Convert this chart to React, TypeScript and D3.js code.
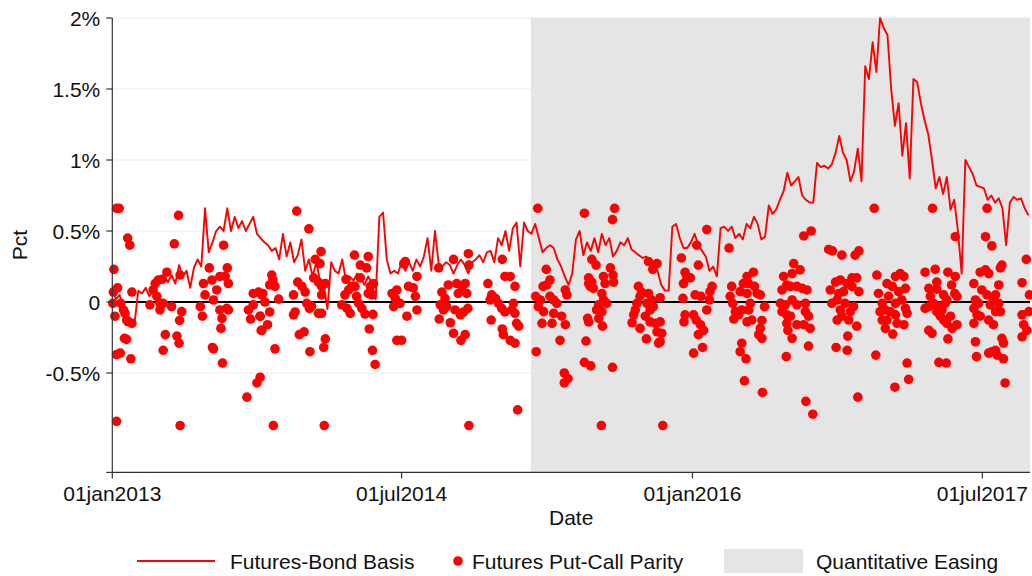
import React from "react";
import * as d3 from "d3";

// ---------- data ----------
const startDate = "2013-01-01";
const endDate = "2017-09-29";
const qeStartDate = "2015-03-02";

// Futures-Bond Basis, weekly observations starting 01jan2013 (pct)
const basisWeekly = [
  0.08, 0.02, 0.05, -0.05, -0.1, -0.12, -0.15, 0.08, 0.06, 0.1,
  0.04, 0.09, 0.12, 0.15, 0.18, 0.14, 0.19, 0.13, 0.26, 0.18,
  0.22, 0.1, 0.24, 0.3, 0.25, 0.66, 0.35, 0.42, 0.5, 0.53,
  0.5, 0.66, 0.5, 0.6, 0.52, 0.57, 0.5, 0.55, 0.6, 0.48,
  0.45, 0.42, 0.4, 0.36, 0.38, 0.3, 0.48, 0.32, 0.42, 0.28,
  0.33, 0.44, 0.22, 0.3, 0.18, 0.28, 0.15, 0.12, -0.05, 0.28,
  0.22, 0.2, 0.3, 0.15, 0.18, 0.15, 0.2, 0.17, 0.12, 0.18,
  0.13, 0.02, 0.6, 0.63, 0.3, 0.2, 0.22, 0.2, 0.28, 0.22,
  0.28, 0.22, 0.3, 0.25, 0.32, 0.45, 0.22, 0.5, 0.27, 0.25,
  0.28, 0.26, 0.2, 0.26, 0.3, 0.26, 0.2, 0.28, 0.3, 0.33,
  0.28, 0.35, 0.36, 0.28, 0.45, 0.4, 0.5, 0.36, 0.52, 0.56,
  0.25, 0.56, 0.5, 0.48, 0.55, 0.45, 0.35, 0.38, 0.4, 0.38,
  0.3, 0.25, 0.18, 0.12, 0.2, 0.44, 0.5, 0.33, 0.42, 0.36,
  0.45, 0.35, 0.48, 0.4, 0.45, 0.32, 0.36, 0.42, 0.4, 0.45,
  0.37, 0.35, 0.33, 0.31, 0.32, 0.28, 0.26, 0.22, 0.12, 0.08,
  0.08, 0.53, 0.55, 0.45, 0.38, 0.38, 0.42, 0.48, 0.4, 0.36,
  0.32, 0.22, 0.25, 0.18, 0.52, 0.53, 0.5, 0.53, 0.45, 0.48,
  0.44, 0.55, 0.52, 0.6, 0.55, 0.44, 0.46, 0.68, 0.62, 0.65,
  0.72, 0.78, 0.91, 0.82, 0.85, 0.88, 0.75, 0.72, 0.7, 0.7,
  0.98, 0.95, 0.96, 0.94, 0.97, 1.05, 1.17, 1.05, 1.0, 0.85,
  0.92, 1.08, 0.85, 1.66, 1.57, 1.83, 1.62, 2.0, 1.93, 1.88,
  1.5, 1.24, 1.4, 1.03, 1.26, 0.87, 1.57, 1.55, 1.4, 1.28,
  1.18, 1.0, 0.8, 0.88, 0.76, 0.88, 0.65, 0.72, 0.5, 0.2,
  1.0, 0.95, 0.9, 0.82, 0.81, 0.8, 0.72, 0.75, 0.7, 0.73,
  0.66, 0.4, 0.7, 0.74, 0.72, 0.73, 0.66, 0.61,
];

// Futures Put-Call Parity: [days since 01jan2013, pct]
const parityPoints: [number, number][] = [
  [8,0.66],[13,0.66],[125,0.61],[29,0.45],[33,0.40],[117,0.41],[210,0.40],[3,0.23],[103,0.21],[183,0.24],[217,0.24],[128,0.19],[2,0.07],[10,0.10],[37,0.07],
  [87,0.155],[94,0.16],[81,0.13],[77,0.085],[84,0.04],[90,-0.01],
  [172,0.13],[188,0.155],[203,0.18],[219,0.13],[213,0.18],[197,0.085],[175,0.05],[191,0.014],
  [266,0.06],[276,0.07],[282,0.05],
  [1,-0.01],[5,-0.10],[16,-0.01],[21,-0.056],[24,-0.08],[27,-0.127],[30,-0.139],[37,-0.15],
  [71,-0.02],[90,-0.056],[96,-0.01],[112,-0.033],[131,-0.068],[127,-0.13],[166,-0.033],[170,-0.10],
  [203,-0.056],[207,-0.115],[216,-0.045],[219,-0.056],[205,-0.186],
  [257,-0.056],[261,-0.12],[266,-0.02],[279,-0.10],[281,-0.20],
  [100,-0.23],[122,-0.24],[126,-0.29],[23,-0.256],[27,-0.263],[96,-0.34],[189,-0.32],[191,-0.33],[8,-0.37],[15,-0.36],[35,-0.40],[208,-0.43],[279,-0.53],[273,-0.57],[254,-0.67],[8,-0.84],[128,-0.87],
  [348,0.64],[371,0.515],[301,0.19],[303,0.155],[297,0.12],[307,0.11],[284,0.06],[288,0.0],[279,-0.10],[297,-0.07],[293,-0.16],[282,-0.20],[314,0.02],[307,-0.33],[304,-0.87],
  [350,0.14],[358,0.11],[364,0.07],[342,0.05],[345,-0.07],[342,-0.09],[353,-0.23],[362,-0.21],[367,-0.01],[372,-0.045],[376,-0.03],[373,-0.35],
  [394,0.355],[392,0.27],[383,0.30],[380,0.17],[389,0.14],[395,0.11],[402,0.13],[395,0.05],[389,-0.08],[395,-0.08],[402,-0.26],[399,-0.32],[400,-0.87],
  [441,0.16],[433,-0.02],[443,-0.045],[449,-0.08],[439,0.05],[446,0.085],[452,0.11],
  [457,0.33],[468,0.26],[483,0.32],[480,0.24],[468,0.17],[458,0.11],[461,0.04],[465,-0.01],[471,-0.045],[477,-0.085],
  [487,0.11],[490,0.05],[493,0.13],[483,0.06],[492,-0.087],[485,-0.19],[491,-0.34],[496,-0.44],
  [528,0.06],[534,0.026],[537,0.085],[531,-0.033],[543,-0.01],[537,-0.27],[546,-0.27],[550,0.27],[553,0.285],
  [559,0.11],[568,0.10],[575,0.18],[572,0.04],[575,-0.056],[556,-0.10],
  [616,0.24],[644,0.30],[672,0.34],[673,0.26],[634,0.12],[622,0.07],[628,0.026],[619,-0.02],[631,-0.033],[625,-0.056],[617,-0.12],[638,-0.146],[644,-0.22],[658,-0.27],[666,-0.23],
  [650,0.13],[653,0.06],[660,0.11],[666,0.13],[669,0.06],[647,-0.056],[657,-0.09],[663,-0.07],[671,-0.045],[673,-0.87],
  [709,0.13],[716,0.05],[723,0.026],[713,0.014],[715,-0.127],[729,-0.01],[735,-0.045],[741,-0.07],[736,0.30],[741,0.18],[751,0.18],[736,-0.19],[738,-0.23],[751,-0.27],[760,-0.29],
  [760,0.11],[757,-0.01],[754,-0.056],[760,-0.08],[763,-0.15],[767,-0.17],[765,-0.76],
  [803,0.66],[819,0.23],[813,0.11],[820,0.12],[826,0.155],[799,0.04],[808,0.014],[804,-0.033],[814,-0.068],[811,-0.15],[800,-0.35],
  [826,0.04],[833,0.014],[839,-0.01],[833,-0.08],[830,-0.15],[848,-0.10],[855,-0.16],[845,-0.27],[853,-0.50],[860,-0.54],[853,-0.57],[855,0.085],[858,0.05],
  [891,0.625],[948,0.66],[944,0.58],[905,0.30],[913,0.26],[940,0.24],[945,0.19],[946,0.14],
  [899,0.17],[905,0.14],[902,0.11],[908,0.096],[899,0.13],[927,0.18],[930,0.13],[924,0.06],[927,0.014],
  [918,-0.02],[914,-0.056],[924,-0.068],[933,-0.01],[897,-0.115],[899,-0.14],[918,-0.115],[925,-0.17],[894,-0.275],[891,-0.425],[903,-0.45],[944,-0.46],[923,-0.87],
  [993,0.11],[999,0.07],[996,0.04],[990,-0.01],[987,-0.056],[984,-0.09],[1012,0.285],[1028,0.27],[1020,0.23],
  [1012,0.06],[1018,0.014],[1009,-0.01],[1021,-0.033],[1015,-0.056],[1006,-0.10],[981,-0.146],[996,-0.186],[1008,-0.26],
  [1015,-0.14],[1025,-0.15],[1034,-0.14],[1028,-0.21],[1037,-0.22],[1031,-0.29],[1034,-0.28],[1039,-0.87],[1034,0.03],
  [1074,0.31],[1081,0.21],[1084,0.18],[1078,0.13],[1091,0.17],[1077,0.026],[1081,-0.09],[1079,-0.14],
  [1097,-0.09],[1102,-0.127],[1110,-0.16],[1116,-0.20],[1106,-0.23],[1097,-0.36],[1114,-0.32],
  [1122,0.51],[1103,0.40],[1106,0.26],[1100,0.05],[1111,0.04],[1122,-0.056],[1128,0.073],[1132,0.11],[1127,0.014],
  [1164,0.38],[1169,0.11],[1166,0.04],[1171,-0.01],[1176,-0.068],[1173,-0.12],[1182,-0.09],[1188,-0.056],[1185,0.073],
  [1191,0.13],[1198,0.18],[1201,0.13],[1210,0.21],[1212,0.11],[1217,0.06],[1223,0.05],
  [1198,0.06],[1204,-0.01],[1201,-0.056],[1198,-0.14],[1207,-0.127],[1231,-0.033],[1226,-0.13],[1223,-0.186],[1220,-0.23],[1226,-0.256],
  [1188,-0.29],[1185,-0.35],[1196,-0.40],[1193,-0.555],[1227,-0.637],
  [1286,0.27],[1298,0.226],[1305,0.465],[1319,0.50],
  [1267,0.18],[1283,0.20],[1273,0.12],[1264,0.085],[1280,0.11],[1292,0.11],[1302,0.096],[1311,0.085],
  [1261,-0.01],[1270,-0.02],[1283,0.014],[1292,-0.02],[1308,-0.01],[1264,-0.068],[1273,-0.09],[1280,-0.10],[1308,-0.068],[1314,-0.10],
  [1273,-0.15],[1275,-0.20],[1283,-0.256],[1292,-0.16],[1305,-0.16],[1317,-0.186],[1272,-0.385],[1314,-0.31],[1309,-0.70],[1322,-0.79],
  [1352,0.37],[1359,0.36],[1377,0.33],[1402,0.33],[1409,0.36],
  [1365,0.14],[1374,0.155],[1387,0.13],[1396,0.17],[1405,0.17],[1409,0.073],[1355,0.085],[1371,0.06],[1380,0.073],[1396,0.11],
  [1358,-0.01],[1368,0.014],[1383,-0.01],[1399,-0.033],[1393,-0.068],[1374,-0.056],[1377,-0.10],[1368,-0.127],[1390,-0.127],[1405,-0.17],
  [1388,-0.24],[1366,-0.32],[1387,-0.34],[1407,-0.67],
  [1438,0.66],[1443,0.19],[1446,0.06],[1449,-0.068],[1453,-0.127],[1441,-0.374],
  [1453,-0.01],[1462,0.13],[1465,0.04],[1459,-0.056],
  [1472,0.11],[1478,0.18],[1487,0.20],[1494,0.18],[1497,0.096],[1484,0.073],[1478,-0.01],[1490,0.014],[1497,-0.045],[1500,-0.08],
  [1468,-0.068],[1478,-0.09],[1481,-0.15],[1494,-0.16],[1462,-0.127],[1459,-0.186],[1473,-0.226],
  [1500,-0.43],[1503,-0.545],[1477,-0.60],
  [1548,0.66],[1534,0.21],[1553,0.23],[1541,0.096],[1556,0.14],[1556,0.09],[1544,0.04],[1541,-0.033],[1534,-0.045],
  [1550,-0.01],[1560,-0.033],[1566,-0.056],[1572,-0.01],[1575,0.014],[1569,0.05],
  [1556,-0.068],[1563,-0.10],[1569,-0.127],[1575,-0.15],[1582,-0.10],[1585,-0.186],[1594,-0.16],[1541,-0.20],[1547,-0.22],[1577,-0.26],[1560,-0.425],[1574,-0.43],
  [1577,0.21],[1584,0.12],[1591,0.18],[1590,0.06],[1594,0.04],[1591,0.46],
  [1626,0.13],[1638,0.21],[1648,0.226],[1654,0.20],[1641,0.085],[1651,0.05],[1629,0.014],[1635,-0.01],
  [1626,-0.045],[1632,-0.09],[1638,-0.10],[1626,-0.15],[1663,0.026],[1667,0.05],[1673,-0.01],[1657,-0.02],[1667,-0.068],[1676,-0.068],
  [1654,-0.127],[1663,-0.16],[1629,-0.28],[1631,-0.385],[1654,-0.36],[1660,-0.35],[1667,-0.34],[1670,-0.374],[1682,-0.40],[1679,-0.256],[1682,-0.29],[1685,-0.57],
  [1651,0.66],[1648,0.46],[1660,0.395],[1673,0.12],[1676,0.24],[1679,0.26],
  [1717,0.136],[1725,0.30],[1717,-0.09],[1720,-0.16],[1717,-0.245],[1726,-0.20],[1730,-0.068],[1731,0.05],
];

const yTickValues = [2, 1.5, 1, 0.5, 0, -0.5];
const yTickLabels = ["2%", "1.5%", "1%", "0.5%", "0", "-0.5%"];
const yMin = -1.2;
const yMax = 2;
const xTickDates = ["2013-01-01", "2014-07-01", "2016-01-01", "2017-07-01"];
const xTickLabels = ["01jan2013", "01jul2014", "01jan2016", "01jul2017"];
const legendLabels = ["Futures-Bond Basis", "Futures Put-Call Parity", "Quantitative Easing"];

// ---------- chart ----------
const W = 1032;
const H = 576;
const plotLeft = 112.3;
const plotRight = 1030;
const plotTop = 18;
const plotBottom = 472.4;
const FONT = "'Liberation Sans', Arial, Helvetica, sans-serif";
const RED = "#ff0000";

const parse = d3.utcParse("%Y-%m-%d");
const DAY = 86400000;

export default function App() {
  const t0 = parse(startDate) as Date;
  const t1 = parse(endDate) as Date;
  const x = d3.scaleUtc().domain([t0, t1]).range([plotLeft, plotRight]);
  const y = d3.scaleLinear().domain([yMin, yMax]).range([plotBottom, plotTop]);

  const basis = basisWeekly.map((v, i) => ({ d: d3.utcDay.offset(t0, 7 * i), v }));
  const parity = parityPoints.map(([dd, v]) => ({ d: new Date(t0.getTime() + dd * DAY), v }));

  const line = d3
    .line<{ d: Date; v: number }>()
    .x((p) => x(p.d))
    .y((p) => y(p.v));

  const qeX = x(parse(qeStartDate) as Date);

  return (
    <svg
      width={W}
      height={H}
      style={{ position: "absolute", left: 0, top: 0, background: "#fff" }}
      fontFamily={FONT}
    >
      {/* gridlines */}
      {yTickValues
        .filter((v) => v !== 0)
        .map((v) => (
          <line key={"g" + v} x1={plotLeft} x2={plotRight} y1={y(v)} y2={y(v)} stroke="#e8eef1" strokeWidth={1.2} />
        ))}
      {/* QE shading */}
      <rect x={qeX} y={plotTop} width={plotRight - qeX} height={plotBottom - plotTop} fill="#e5e5e5" />
      {/* zero line */}
      <line x1={plotLeft} x2={plotRight} y1={y(0)} y2={y(0)} stroke="#000" strokeWidth={2} />
      {/* basis line */}
      <path d={line(basis) || ""} fill="none" stroke={RED} strokeWidth={1.9} strokeLinejoin="round" />
      {/* parity dots */}
      {parity.map((p, i) => (
        <circle key={i} cx={x(p.d)} cy={y(p.v)} r={4.8} fill={RED} />
      ))}
      {/* y axis */}
      <line x1={plotLeft} x2={plotLeft} y1={plotTop} y2={plotBottom} stroke="#333" strokeWidth={1.2} />
      {[...yTickValues, yMin].map((v) => (
        <line key={"yt" + v} x1={plotLeft - 6} x2={plotLeft} y1={y(v)} y2={y(v)} stroke="#333" strokeWidth={1.2} />
      ))}
      {yTickValues.map((v, i) => (
        <text key={"yl" + v} x={plotLeft - 12} y={y(v)} dy="0.36em" textAnchor="end" fontSize={21} fill="#111">
          {yTickLabels[i]}
        </text>
      ))}
      <text
        transform={`translate(${27},${(plotTop + plotBottom) / 2}) rotate(-90)`}
        textAnchor="middle"
        fontSize={21}
        fill="#111"
      >
        Pct
      </text>
      {/* x axis */}
      <line x1={plotLeft} x2={plotRight} y1={plotBottom} y2={plotBottom} stroke="#333" strokeWidth={1.2} />
      {xTickDates.map((s, i) => {
        const xx = x(parse(s) as Date);
        return (
          <g key={s}>
            <line x1={xx} x2={xx} y1={plotBottom} y2={plotBottom + 6} stroke="#333" strokeWidth={1.2} />
            <text x={xx} y={plotBottom + 29} textAnchor="middle" fontSize={21} fill="#111">
              {xTickLabels[i]}
            </text>
          </g>
        );
      })}
      <text x={(plotLeft + plotRight) / 2} y={525} textAnchor="middle" fontSize={21} fill="#111">
        Date
      </text>
      {/* legend */}
      <g>
        <line x1={137} x2={215} y1={561} y2={561} stroke={RED} strokeWidth={1.9} />
        <text x={230} y={568.5} fontSize={21} fill="#111">
          {legendLabels[0]}
        </text>
        <circle cx={458} cy={561} r={4.8} fill={RED} />
        <text x={472} y={568.5} fontSize={21} fill="#111">
          {legendLabels[1]}
        </text>
        <rect x={724} y={549} width={79} height={24} fill="#e5e5e5" />
        <text x={816} y={568.5} fontSize={21} fill="#111">
          {legendLabels[2]}
        </text>
      </g>
    </svg>
  );
}
